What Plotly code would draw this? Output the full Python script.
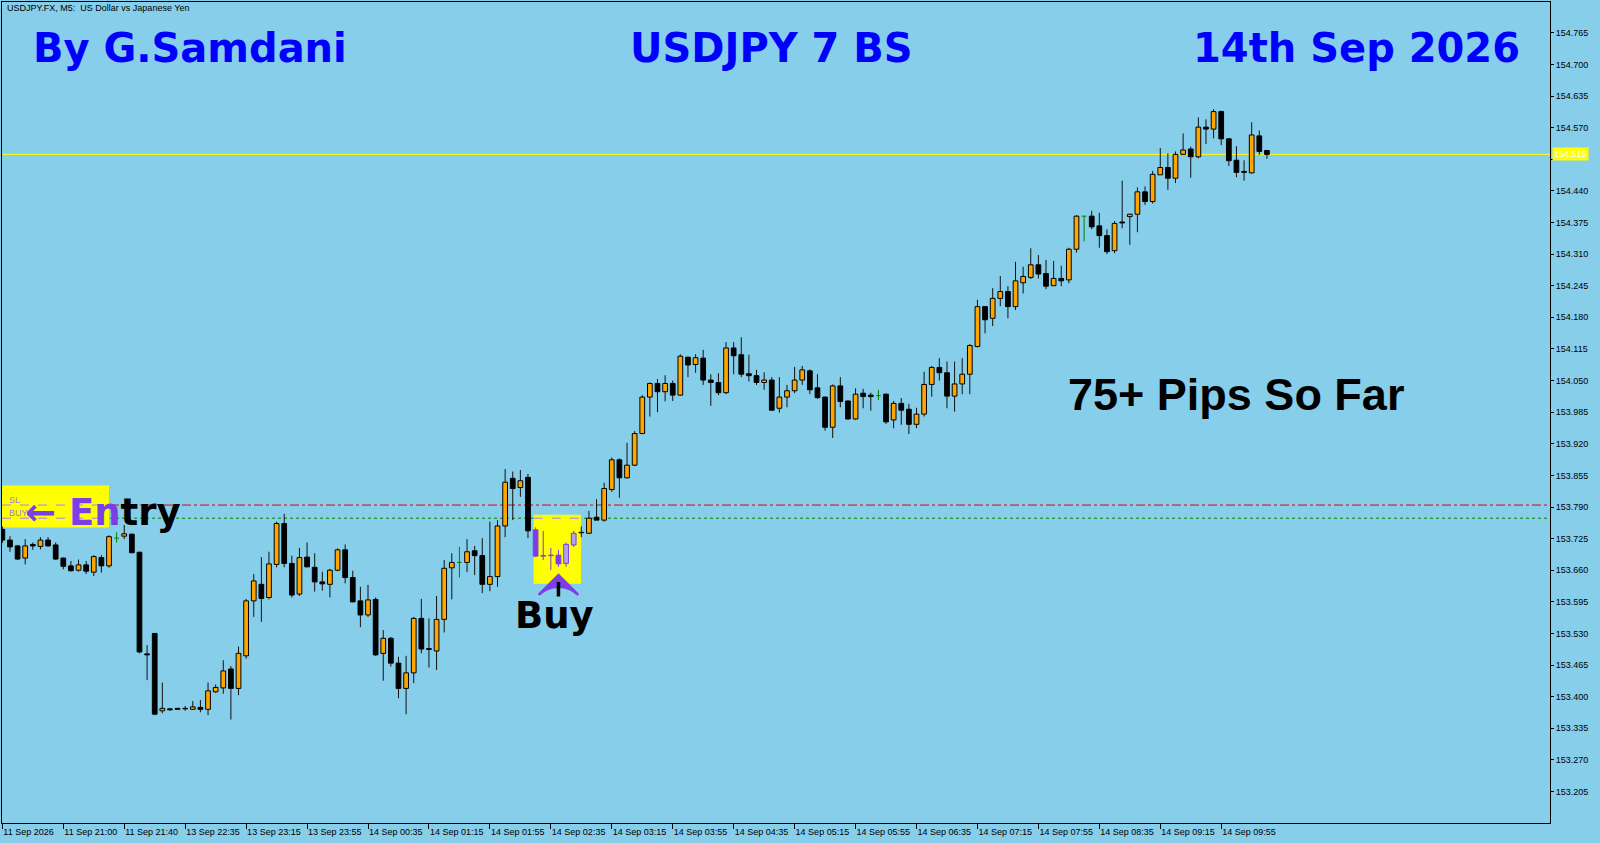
import plotly.graph_objects as go

# ---------------- data (USDJPY M5) ----------------
opens = [153.744, 153.722, 153.710, 153.685, 153.713, 153.709, 153.722, 153.712, 153.685, 153.669,
         153.660, 153.671, 153.656, 153.686, 153.669, 153.726, 153.730, 153.734, 153.697, 153.488,
         153.530, 153.371, 153.375, 153.376, 153.376, 153.374, 153.378, 153.374, 153.410, 153.418,
         153.457, 153.417, 153.484, 153.597, 153.631, 153.604, 153.672, 153.756, 153.674, 153.611,
         153.687, 153.666, 153.636, 153.631, 153.660, 153.702, 153.645, 153.597, 153.568, 153.600,
         153.489, 153.520, 153.469, 153.417, 153.449, 153.561, 153.499, 153.494, 153.559, 153.665,
         153.676, 153.676, 153.700, 153.690, 153.631, 153.647, 153.751, 153.849, 153.830, 153.851,
         153.743, 153.690, 153.691, 153.691, 153.674, 153.712, 153.738, 153.736, 153.769, 153.763,
         153.826, 153.887, 153.850, 153.876, 153.941, 154.016, 154.044, 154.027, 154.044, 154.020,
         154.098, 154.083, 154.096, 154.051, 154.046, 154.025, 154.117, 154.103, 154.064, 154.060,
         154.046, 154.051, 153.993, 154.016, 154.029, 154.051, 154.070, 154.035, 154.016, 153.954,
         154.039, 154.008, 153.971, 154.024, 154.020, 154.019, 154.022, 153.969, 154.003, 153.991,
         153.960, 153.981, 154.042, 154.077, 154.066, 154.018, 154.043, 154.063, 154.120, 154.202,
         154.178, 154.219, 154.233, 154.202, 154.251, 154.262, 154.288, 154.270, 154.245, 154.260,
         154.257, 154.320, 154.388, 154.388, 154.368, 154.348, 154.317, 154.376, 154.387, 154.392,
         154.438, 154.418, 154.473, 154.488, 154.466, 154.515, 154.526, 154.510, 154.571, 154.567,
         154.603, 154.547, 154.503, 154.480, 154.477, 154.553, 154.523]

highs = [153.750, 153.730, 153.712, 153.724, 153.717, 153.728, 153.728, 153.717, 153.686, 153.679,
         153.682, 153.679, 153.691, 153.691, 153.732, 153.738, 153.753, 153.736, 153.698, 153.506,
         153.530, 153.429, 153.377, 153.377, 153.381, 153.391, 153.393, 153.429, 153.425, 153.475,
         153.463, 153.503, 153.601, 153.652, 153.687, 153.698, 153.760, 153.776, 153.690, 153.706,
         153.717, 153.695, 153.657, 153.663, 153.705, 153.713, 153.659, 153.626, 153.630, 153.604,
         153.537, 153.523, 153.482, 153.484, 153.564, 153.601, 153.561, 153.607, 153.681, 153.695,
         153.708, 153.724, 153.710, 153.726, 153.760, 153.763, 153.868, 153.863, 153.866, 153.858,
         153.748, 153.741, 153.706, 153.702, 153.717, 153.741, 153.750, 153.782, 153.806, 153.840,
         153.892, 153.890, 153.922, 153.946, 154.020, 154.046, 154.053, 154.061, 154.050, 154.104,
         154.099, 154.104, 154.113, 154.063, 154.065, 154.129, 154.129, 154.139, 154.103, 154.072,
         154.067, 154.057, 154.057, 154.041, 154.078, 154.080, 154.073, 154.063, 154.017, 154.042,
         154.057, 154.009, 154.034, 154.033, 154.025, 154.031, 154.023, 154.008, 154.014, 154.002,
         153.994, 154.068, 154.080, 154.096, 154.089, 154.089, 154.096, 154.125, 154.216, 154.203,
         154.240, 154.265, 154.244, 154.294, 154.284, 154.322, 154.308, 154.298, 154.296, 154.286,
         154.323, 154.390, 154.388, 154.399, 154.395, 154.361, 154.378, 154.461, 154.393, 154.447,
         154.449, 154.481, 154.528, 154.517, 154.521, 154.558, 154.531, 154.591, 154.587, 154.608,
         154.605, 154.548, 154.532, 154.503, 154.581, 154.564, 154.523]

lows = [153.716, 153.698, 153.681, 153.672, 153.702, 153.703, 153.708, 153.681, 153.662, 153.657,
        153.657, 153.652, 153.648, 153.655, 153.665, 153.717, 153.724, 153.695, 153.489, 153.434,
        153.362, 153.366, 153.371, 153.373, 153.371, 153.373, 153.368, 153.362, 153.408, 153.406,
        153.353, 153.403, 153.478, 153.564, 153.554, 153.600, 153.666, 153.666, 153.604, 153.607,
        153.666, 153.616, 153.618, 153.604, 153.658, 153.633, 153.594, 153.543, 153.564, 153.484,
        153.433, 153.462, 153.397, 153.364, 153.428, 153.489, 153.460, 153.455, 153.532, 153.600,
        153.645, 153.656, 153.650, 153.613, 153.617, 153.626, 153.728, 153.763, 153.811, 153.726,
        153.687, 153.681, 153.660, 153.667, 153.667, 153.708, 153.728, 153.735, 153.763, 153.760,
        153.821, 153.809, 153.849, 153.874, 153.940, 153.976, 153.985, 154.007, 154.008, 154.019,
        154.057, 154.066, 154.041, 153.998, 154.020, 154.022, 154.063, 154.057, 154.048, 154.041,
        154.031, 153.988, 153.984, 153.995, 154.024, 154.041, 154.022, 154.012, 153.947, 153.932,
        153.995, 153.969, 153.969, 153.993, 153.988, 154.010, 153.961, 153.952, 153.959, 153.940,
        153.952, 153.976, 154.017, 154.050, 153.993, 153.986, 154.022, 154.022, 154.118, 154.147,
        154.162, 154.203, 154.178, 154.195, 154.229, 154.259, 154.260, 154.238, 154.245, 154.244,
        154.250, 154.313, 154.336, 154.361, 154.323, 154.310, 154.312, 154.363, 154.329, 154.355,
        154.411, 154.414, 154.473, 154.442, 154.456, 154.514, 154.467, 154.507, 154.536, 154.548,
        154.534, 154.491, 154.468, 154.461, 154.476, 154.514, 154.506]

closes = [153.722, 153.708, 153.683, 153.710, 153.710, 153.722, 153.710, 153.683, 153.668, 153.659,
          153.671, 153.658, 153.688, 153.669, 153.729, 153.726, 153.735, 153.696, 153.492, 153.486,
          153.364, 153.376, 153.373, 153.374, 153.375, 153.379, 153.374, 153.412, 153.419, 153.453,
          153.417, 153.489, 153.597, 153.638, 153.602, 153.673, 153.756, 153.674, 153.609, 153.686,
          153.667, 153.636, 153.632, 153.660, 153.702, 153.645, 153.595, 153.568, 153.599, 153.486,
          153.520, 153.469, 153.417, 153.449, 153.561, 153.498, 153.497, 153.559, 153.664, 153.676,
          153.676, 153.698, 153.690, 153.631, 153.647, 153.751, 153.841, 153.828, 153.844, 153.741,
          153.689, 153.689, 153.690, 153.673, 153.713, 153.736, 153.737, 153.767, 153.763, 153.828,
          153.887, 153.850, 153.876, 153.941, 154.016, 154.044, 154.027, 154.044, 154.020, 154.100,
          154.082, 154.097, 154.051, 154.046, 154.025, 154.117, 154.101, 154.063, 154.060, 154.046,
          154.051, 153.989, 154.016, 154.029, 154.051, 154.072, 154.031, 154.015, 153.954, 154.039,
          154.007, 153.971, 154.022, 154.017, 154.017, 154.019, 153.965, 154.003, 153.989, 153.960,
          153.981, 154.042, 154.077, 154.066, 154.018, 154.043, 154.063, 154.122, 154.202, 154.175,
          154.219, 154.233, 154.202, 154.255, 154.264, 154.288, 154.269, 154.244, 154.260, 154.255,
          154.320, 154.388, 154.388, 154.366, 154.348, 154.315, 154.373, 154.374, 154.392, 154.438,
          154.418, 154.474, 154.488, 154.466, 154.515, 154.524, 154.510, 154.571, 154.567, 154.603,
          154.547, 154.502, 154.478, 154.478, 154.555, 154.521, 154.515]

x_tick_index = [0, 8, 16, 24, 32, 40, 48, 56, 64, 72, 80, 88, 96, 104, 112, 120, 128, 136, 144, 152, 160]
x_tick_labels = ["11 Sep 2026", "11 Sep 21:00", "11 Sep 21:40", "13 Sep 22:35", "13 Sep 23:15",
                 "13 Sep 23:55", "14 Sep 00:35", "14 Sep 01:15", "14 Sep 01:55", "14 Sep 02:35",
                 "14 Sep 03:15", "14 Sep 03:55", "14 Sep 04:35", "14 Sep 05:15", "14 Sep 05:55",
                 "14 Sep 06:35", "14 Sep 07:15", "14 Sep 07:55", "14 Sep 08:35", "14 Sep 09:15",
                 "14 Sep 09:55"]
y_tick_values = [153.205, 153.270, 153.335, 153.400, 153.465, 153.530, 153.595, 153.660, 153.725,
                 153.790, 153.855, 153.920, 153.985, 154.050, 154.115, 154.180, 154.245, 154.310,
                 154.375, 154.440, 154.505, 154.570, 154.635, 154.700, 154.765]

sl_price = 153.794
buy_price = 153.767
current_price = 154.515
entry_box_bars = [-0.05, 14.0]
entry_box_prices = [153.748, 153.834]
buy_box_bars = [69.75, 75.95]
buy_box_prices = [153.632, 153.774]
buy_arrow_bar = 73
buy_arrow_head_price = 153.650
buy_arrow_shaft_price = 153.636

# ---------------- styling ----------------
BG = "#87CEEB"
ORANGE = "#FFA500"
BLACK = "#000000"
PURPLE = "#7B3FE4"
LAVENDER = "#B4A2F0"
DOJI = "#008000"
HALF = 0.31

body_x, body_base, body_h, body_fill, body_line = [], [], [], [], []
wicks = {"black": ([], []), "purple": ([], []), "green": ([], [])}

for i, (o, h, l, c) in enumerate(zip(opens, highs, lows, closes)):
    in_box = buy_box_bars[0] <= i <= buy_box_bars[1]
    if c == o:
        xs, ys = wicks["green"]
        xs += [i, i, None, i - HALF, i + HALF, None]
        ys += [h, l, None, o, o, None]
        continue
    key = "purple" if in_box else "black"
    top, bot = max(o, c), min(o, c)
    xs, ys = wicks[key]
    if h > top:
        xs += [i, i, None]
        ys += [top, h, None]
    if l < bot:
        xs += [i, i, None]
        ys += [bot, l, None]
    body_x.append(i)
    body_base.append(bot)
    body_h.append(top - bot)
    if c > o:
        body_fill.append(LAVENDER if in_box else ORANGE)
    else:
        body_fill.append(PURPLE if in_box else BLACK)
    body_line.append(PURPLE if in_box else BLACK)

fig = go.Figure()
fig.add_trace(go.Bar(x=body_x, y=body_h, base=body_base, width=2 * HALF,
                     marker=dict(color=body_fill, line=dict(color=body_line, width=1)),
                     hoverinfo="skip"))
wick_colors = {"black": "#111111", "purple": PURPLE, "green": DOJI}
for k, (xs, ys) in wicks.items():
    fig.add_trace(go.Scatter(x=xs, y=ys, mode="lines",
                             line=dict(color=wick_colors[k], width=1), hoverinfo="skip"))

# buy arrow head
fig.add_trace(go.Scatter(x=[buy_arrow_bar], y=[buy_arrow_head_price], mode="markers",
                         marker=dict(symbol="arrow-wide", size=28, color=PURPLE,
                                     line=dict(width=2.5, color=PURPLE)), hoverinfo="skip"))

shapes = [
    dict(type="line", xref="paper", x0=0, x1=1, yref="y", y0=current_price, y1=current_price,
         line=dict(color="#FFFF00", width=1), layer="below"),
    dict(type="line", xref="paper", x0=0, x1=1, yref="y", y0=sl_price, y1=sl_price,
         line=dict(color="#E00000", width=1, dash="dashdot"), layer="below"),
    dict(type="line", xref="paper", x0=0, x1=1, yref="y", y0=buy_price, y1=buy_price,
         line=dict(color="#008000", width=1, dash="dot"), layer="below"),
    dict(type="rect", xref="x", yref="y", x0=entry_box_bars[0], x1=entry_box_bars[1],
         y0=entry_box_prices[0], y1=entry_box_prices[1], fillcolor="#FFFF00",
         line=dict(width=0), layer="below"),
    dict(type="rect", xref="x", yref="y", x0=buy_box_bars[0], x1=buy_box_bars[1],
         y0=buy_box_prices[0], y1=buy_box_prices[1], fillcolor="#FFFF00",
         line=dict(width=0), layer="below"),
]
for (xa, xb), yv in [(entry_box_bars, sl_price), (entry_box_bars, buy_price), (buy_box_bars, buy_price)]:
    shapes.append(dict(type="line", xref="x", yref="y", x0=xa, x1=xb, y0=yv, y1=yv,
                       line=dict(color="#9F86EE", width=1, dash="dash"), layer="below"))


def px_x(px):
    return (px - 2) / 1548


def px_y(py):
    return (823 - py) / 821


TITLE_FONT = dict(family="DejaVu Sans", size=40, color="#0000FF")
annotations = [
    dict(text="USDJPY.FX, M5:\u00a0 US Dollar vs Japanese Yen", x=px_x(5), y=px_y(8.5),
         xanchor="left", yanchor="middle", font=dict(family="Liberation Sans", size=9, color="black")),
    dict(text="<b>By G.Samdani</b>", x=px_x(31), y=px_y(48), xanchor="left", yanchor="middle",
         font=TITLE_FONT),
    dict(text="<b>USDJPY 7 BS</b>", x=px_x(771), y=px_y(48), xanchor="center", yanchor="middle",
         font=TITLE_FONT),
    dict(text="<b>14th Sep 2026</b>", x=px_x(1522), y=px_y(48), xanchor="right", yanchor="middle",
         font=TITLE_FONT),
    dict(text="<b>75+ Pips So Far</b>", x=px_x(1235.5), y=px_y(394), xanchor="center", yanchor="middle",
         font=dict(family="Liberation Sans", size=45, color="black")),
    dict(text="<b>Buy</b>", x=px_x(554.5), y=px_y(615), xanchor="center", yanchor="middle",
         font=dict(family="DejaVu Sans", size=37, color="black")),
    dict(text='<b><span style="color:%s">\u2190\u00a0En</span>try</b>' % PURPLE,
         x=px_x(103), y=px_y(512.5), xanchor="center", yanchor="middle",
         font=dict(family="DejaVu Sans", size=37, color="black")),
    dict(text="SL", x=px_x(7), y=px_y(499.5), xanchor="left", yanchor="middle",
         font=dict(family="Liberation Sans", size=9, color="#9A7CF0")),
    dict(text="BUY", x=px_x(7), y=px_y(513), xanchor="left", yanchor="middle",
         font=dict(family="Liberation Sans", size=9, color="#9A7CF0")),
]
for a in annotations:
    a.update(xref="paper", yref="paper", showarrow=False)

# current price label on the axis
annotations.append(dict(text="%.3f" % current_price, xref="paper", x=1, xshift=2, yref="y",
                        y=current_price, xanchor="left", yanchor="middle", showarrow=False,
                        bgcolor="#FFFF00", borderpad=1,
                        font=dict(family="Liberation Sans", size=9, color="white")))
# buy arrow shaft
annotations.append(dict(text="", xref="x", yref="y", x=buy_arrow_bar, y=buy_arrow_shaft_price,
                        ax=0, ay=16, showarrow=True, arrowhead=0, arrowwidth=3.5, arrowcolor="black"))

# the current-price label sits on its own tick, so that tick's text is left blank
y_tick_text = ["" if abs(v - current_price) < 0.02 else "%.3f" % v for v in y_tick_values]

TICK_FONT = dict(family="Liberation Sans", size=9, color="black")
fig.update_layout(
    width=1600, height=843,
    margin=dict(l=2, r=50, t=2, b=20, pad=0),
    paper_bgcolor=BG, plot_bgcolor=BG,
    showlegend=False,
    shapes=shapes,
    annotations=annotations,
    xaxis=dict(range=[-0.046, 203.16], tickmode="array", tickvals=x_tick_index, ticktext=x_tick_labels,
               ticks="outside", ticklen=5, tickcolor="black", tickwidth=1, tickangle=0,
               ticklabelposition="outside right", tickfont=TICK_FONT,
               showgrid=False, zeroline=False, showline=True, linecolor="black", linewidth=1,
               mirror=True, automargin=False, fixedrange=True),
    yaxis=dict(range=[153.1403, 154.8283], side="right", tickmode="array", tickvals=y_tick_values,
               ticktext=y_tick_text, ticks="outside", ticklen=3,
               tickcolor="black", tickwidth=1, tickfont=TICK_FONT,
               showgrid=False, zeroline=False, showline=True, linecolor="black", linewidth=1,
               mirror=True, automargin=False, fixedrange=True),
)

fig.write_html("out.html", config={"displayModeBar": False},
               post_script="document.body.style.margin='0';document.body.style.overflow='hidden';")
